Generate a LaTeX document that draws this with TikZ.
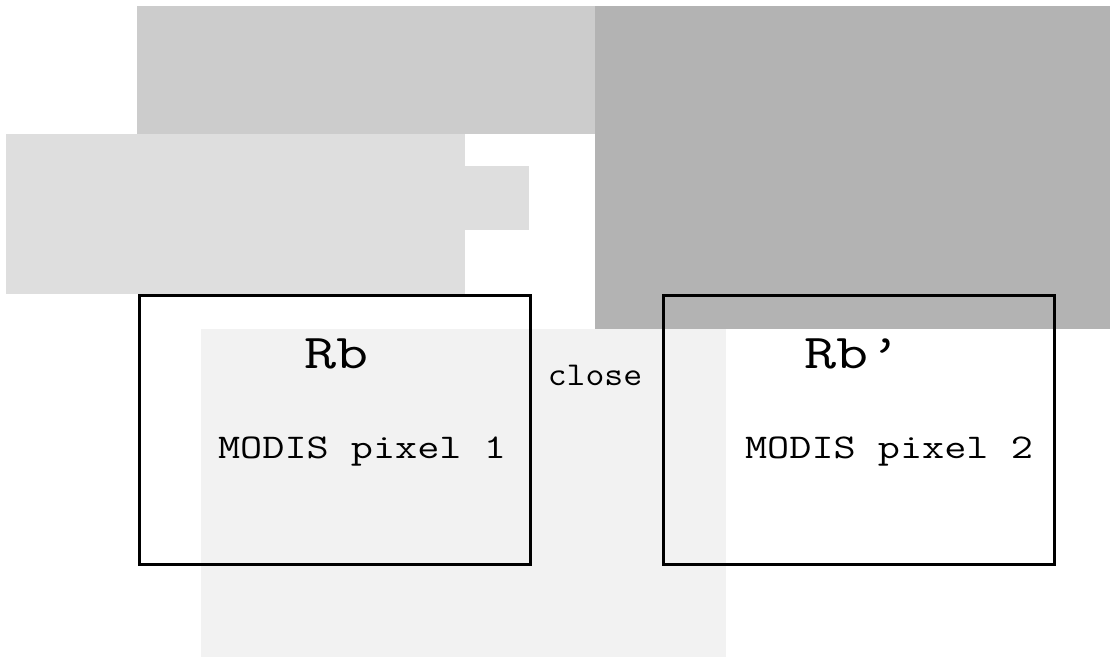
\documentclass[tikz,border=0pt]{standalone}
\usepackage{graphicx}
\definecolor{gA}{HTML}{CCCCCC}
\definecolor{gB}{HTML}{B3B3B3}
\definecolor{gC}{HTML}{DEDEDE}
\definecolor{gD}{HTML}{F2F2F2}
\newcommand{\widett}[2]{\scalebox{#1}[1]{#2}}
\begin{document}
\begin{tikzpicture}[x=0.75pt,y=-0.75pt,
  pixbox/.style={draw=black,line width=2.25pt,inner sep=0pt,minimum width=293.25pt,minimum height=201.375pt},
  bigtxt/.style={anchor=base,inner sep=0pt,font=\ttfamily\fontsize{36.5}{40}\selectfont},
  midtxt/.style={anchor=base,inner sep=0pt,font=\ttfamily\fontsize{26}{30}\selectfont},
  smltxt/.style={anchor=base,inner sep=0pt,font=\ttfamily\fontsize{25}{29}\selectfont}]
\useasboundingbox (0,0) rectangle (1110,660);
\fill[gA] (137,6) rectangle (595,134);
\fill[gB] (595,6) rectangle (1110,329);
\fill[gC] (6,134) rectangle (465,294);
\fill[gC] (465,166) rectangle (529,230);
\fill[gD] (201,329) rectangle (726,657);
\node[pixbox] (b1) at (335,429.75) {};
\node[pixbox] (b2) at (859.25,429.75) {};
\node[bigtxt] (rb) at (336.5,368) {\widett{1.28}{Rb}};
\node[bigtxt] (rbp) at (853,368) {\widett{1.28}{Rb’}};
\node[midtxt] (m1) at (362,458) {\widett{1.24}{MODIS pixel 1}};
\node[midtxt] (m2) at (889,458) {\widett{1.24}{MODIS pixel 2}};
\node[smltxt] (cl) at (595,385) {\widett{1.1}{close}};
\end{tikzpicture}
\end{document}
